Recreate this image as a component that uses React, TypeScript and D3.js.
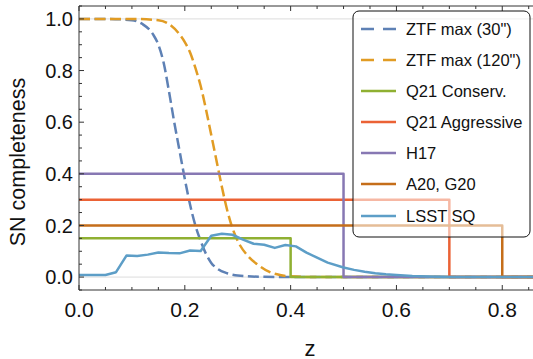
import React from "react";
import * as d3 from "d3";

const W = 533;
const H = 359;

// ZTF max (30")
const ztf30Z = [0, 0.05, 0.1, 0.12, 0.14, 0.15, 0.16, 0.17, 0.18, 0.19, 0.2, 0.21, 0.22, 0.23, 0.24, 0.25, 0.26, 0.28, 0.3, 0.35, 0.4, 0.5, 0.86];
const ztf30V = [1, 1, 0.995, 0.98, 0.94, 0.9, 0.83, 0.72, 0.6, 0.49, 0.38, 0.28, 0.2, 0.14, 0.09, 0.055, 0.035, 0.015, 0.006, 0.001, 0, 0, 0];

// ZTF max (120")
const ztf120Z = [0, 0.1, 0.15, 0.17, 0.19, 0.2, 0.21, 0.22, 0.23, 0.24, 0.25, 0.26, 0.27, 0.28, 0.29, 0.3, 0.32, 0.34, 0.36, 0.38, 0.4, 0.45, 0.5, 0.86];
const ztf120V = [1, 1, 0.995, 0.98, 0.94, 0.91, 0.87, 0.81, 0.74, 0.65, 0.55, 0.45, 0.35, 0.26, 0.19, 0.14, 0.08, 0.045, 0.02, 0.008, 0.003, 0, 0, 0];

// Step models
const stepNames = ["Q21 Conserv.", "Q21 Aggressive", "H17", "A20, G20"];
const stepValues = [0.15, 0.3, 0.4, 0.2];
const stepCutoffs = [0.4, 0.7, 0.5, 0.8];

// LSST SQ
const lsstZ = [0, 0.05, 0.07, 0.09, 0.11, 0.13, 0.15, 0.17, 0.19, 0.21, 0.23, 0.25, 0.27, 0.29, 0.31, 0.33, 0.35, 0.37, 0.39, 0.41, 0.43, 0.45, 0.47, 0.5, 0.52, 0.54, 0.56, 0.58, 0.6, 0.63, 0.66, 0.7, 0.75, 0.86];
const lsstV = [0.008, 0.008, 0.019, 0.084, 0.082, 0.087, 0.095, 0.093, 0.092, 0.103, 0.101, 0.16, 0.168, 0.164, 0.145, 0.129, 0.125, 0.113, 0.124, 0.119, 0.095, 0.075, 0.056, 0.037, 0.028, 0.021, 0.015, 0.011, 0.008, 0.004, 0.002, 0.0005, 0, 0];

const legendNames = ['ZTF max (30")', 'ZTF max (120")', "Q21 Conserv.", "Q21 Aggressive", "H17", "A20, G20", "LSST SQ"];
const colors = ["#5E81B5", "#E19C24", "#8FB032", "#EB6235", "#8778B3", "#C56E1A", "#5D9EC7"];

const xMajor = [0, 0.2, 0.4, 0.6, 0.8];
const yMajor = [0, 0.2, 0.4, 0.6, 0.8, 1.0];

export default function App() {
  const left = 79, right = 534, top = 6, bottom = 290;
  const x = d3.scaleLinear().domain([0, 0.86]).range([left, right]);
  const y = d3.scaleLinear().domain([-0.05, 1.05]).range([bottom, top]);

  const smooth = d3.line<[number, number]>().x(d => x(d[0])).y(d => y(d[1])).curve(d3.curveMonotoneX);
  const lin = d3.line<[number, number]>().x(d => x(d[0])).y(d => y(d[1]));

  const z30 = ztf30Z.map((z, i) => [z, ztf30V[i]] as [number, number]);
  const z120 = ztf120Z.map((z, i) => [z, ztf120V[i]] as [number, number]);
  const lsst = lsstZ.map((z, i) => [z, lsstV[i]] as [number, number]);
  const steps = stepValues.map((v, i) => [[0, v], [stepCutoffs[i], v], [stepCutoffs[i], 0], [0.86, 0]] as [number, number][]);

  const xMinor = d3.range(0, 0.8601, 0.05).filter(v => !xMajor.some(m => Math.abs(m - v) < 1e-6));
  const yMinor = d3.range(-0.05, 1.0501, 0.05).filter(v => !yMajor.some(m => Math.abs(m - v) < 1e-6));

  const font = "'Liberation Sans', Arial, sans-serif";
  const lw = 2.5;

  const legX = 353, legY = 11, legW = 177, legH = 226;
  const rowY = [29, 60, 91, 122, 153, 184, 216];

  return (
    <svg width={W} height={H} style={{ position: "absolute", left: 0, top: 0 }} fontFamily={font}>
      <defs>
        <clipPath id="plotclip">
          <rect x={left} y={top} width={right - left} height={bottom - top} />
        </clipPath>
      </defs>
      <rect x={0} y={0} width={W} height={H} fill="#fff" />
      {[0, 1].map(v => (
        <line key={v} x1={left} x2={right} y1={y(v)} y2={y(v)} stroke="#dcdcdc" strokeWidth={1} />
      ))}
      <g clipPath="url(#plotclip)" fill="none" strokeLinejoin="round">
        <path d={smooth(z30) || ""} stroke={colors[0]} strokeWidth={lw} strokeDasharray="11,4.5" />
        <path d={smooth(z120) || ""} stroke={colors[1]} strokeWidth={lw} strokeDasharray="11,4.5" />
        {steps.map((s, i) => (
          <path key={i} d={lin(s) || ""} stroke={colors[2 + i]} strokeWidth={lw} />
        ))}
        <path d={lin(lsst) || ""} stroke={colors[6]} strokeWidth={lw} />
      </g>
      <g stroke="#333" strokeWidth={1}>
        <line x1={left} x2={left} y1={top} y2={bottom} />
        <line x1={left} x2={right} y1={bottom} y2={bottom} />
        <line x1={left} x2={right} y1={top} y2={top} />
        {yMajor.map(v => <line key={"ym" + v} x1={left} x2={left + 5} y1={y(v)} y2={y(v)} />)}
        {yMinor.map(v => <line key={"yn" + v} x1={left} x2={left + 3} y1={y(v)} y2={y(v)} />)}
        {xMajor.map(v => <line key={"xm" + v} x1={x(v)} x2={x(v)} y1={bottom} y2={bottom - 5} />)}
        {xMinor.map(v => <line key={"xn" + v} x1={x(v)} x2={x(v)} y1={bottom} y2={bottom - 3} />)}
        {xMajor.map(v => <line key={"tm" + v} x1={x(v)} x2={x(v)} y1={top} y2={top + 5} />)}
        {xMinor.map(v => <line key={"tn" + v} x1={x(v)} x2={x(v)} y1={top} y2={top + 3} />)}
      </g>
      {yMajor.map(v => (
        <text key={"yl" + v} x={left - 6} y={y(v) + 7.3} textAnchor="end" fontSize={20} fill="#111">
          {d3.format(".1f")(v)}
        </text>
      ))}
      {xMajor.map(v => (
        <text key={"xl" + v} x={x(v)} y={317} textAnchor="middle" fontSize={21} fill="#111">
          {d3.format(".1f")(v)}
        </text>
      ))}
      <text x={310} y={355.5} textAnchor="middle" fontSize={22} fill="#111">z</text>
      <text transform="translate(25,162) rotate(-90)" textAnchor="middle" fontSize={21.5} fill="#111">
        SN completeness
      </text>
      <rect x={legX} y={legY} width={legW} height={legH} rx={6} ry={6} fill="#fff" fillOpacity={0.55} stroke="#111" strokeWidth={1} />
      {legendNames.map((n, i) => (
        <g key={n}>
          <line x1={361} x2={396} y1={rowY[i]} y2={rowY[i]} stroke={colors[i]} strokeWidth={lw}
            strokeDasharray={i < 2 ? "13,9" : undefined} />
          <text x={406} y={rowY[i] + 5.9} fontSize={16.5} fill="#111">{n}</text>
        </g>
      ))}
    </svg>
  );
}
